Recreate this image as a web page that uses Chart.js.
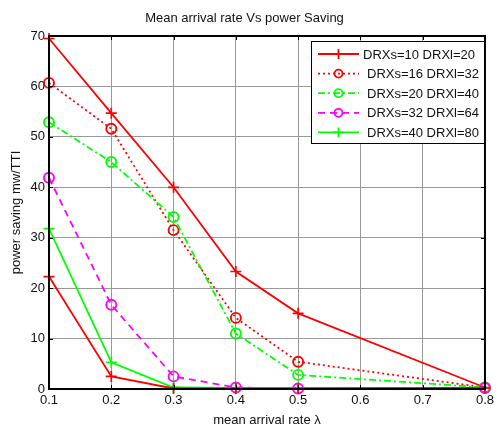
<!DOCTYPE html>
<html>
<head>
<meta charset="utf-8">
<script src="https://cdn.jsdelivr.net/npm/chart.js@4.4.0/dist/chart.umd.min.js"></script>
<style>
    html, body { margin: 0; padding: 0; background: #ffffff; }
    #wrap { width: 498px; height: 426px; }
</style>
</head>
<body>
<div id="wrap"><canvas id="savingChart" width="498" height="426"></canvas></div>
<script>
const arrivalRates = [0.1, 0.2, 0.3, 0.4, 0.5, 0.8];
const xTicks = [0.1, 0.2, 0.3, 0.4, 0.5, 0.6, 0.7, 0.8];
const yTicks = [0, 10, 20, 30, 40, 50, 60, 70];

const seriesNames = [
    "DRXs=10 DRXl=20",
    "DRXs=16 DRXl=32",
    "DRXs=20 DRXl=40",
    "DRXs=32 DRXl=64",
    "DRXs=40 DRXl=80",
    ""
];

const drx10 = [69.5, 54.7, 40.0, 23.3, 15.0, 0.3];
const drx16 = [60.7, 51.6, 31.5, 14.1, 5.4, 0.3];
const drx20 = [52.9, 45.0, 34.1, 11.0, 2.8, 0.3];
const drx32 = [41.9, 16.7, 2.5, 0.3, 0.1, 0.2];
const drx40 = [31.8, 5.3, 0.3, 0.2, 0.2, 0.2];
const drxExtra = [22.3, 2.5, 0.1, 0.1, 0.1, 0.2];

const RED = "#ff0000";
const GREEN = "#00ff00";
const MAGENTA = "#ff00ff";
const FONT = "'Liberation Sans', Arial, sans-serif";

function toPoints(values) {
    return values.map((v, i) => ({ x: arrivalRates[i], y: v }));
}

function makeSeries(name, values, color, marker, dash, order) {
    return {
        label: name,
        data: toPoints(values),
        borderColor: color,
        backgroundColor: "rgba(0,0,0,0)",
        borderWidth: 1.8,
        borderDash: dash,
        pointStyle: marker,
        pointRadius: marker === "cross" ? 5.5 : 5,
        pointBorderWidth: marker === "cross" ? 1.7 : 1.9,
        pointBorderColor: color,
        pointBackgroundColor: "rgba(0,0,0,0)",
        tension: 0,
        clip: false,
        order: order
    };
}

const datasets = [
    makeSeries(seriesNames[0], drx10, RED, "cross", [], 6),
    makeSeries(seriesNames[1], drx16, RED, "circle", [2, 3], 5),
    makeSeries(seriesNames[2], drx20, GREEN, "circle", [7, 3, 2, 3], 4),
    makeSeries(seriesNames[3], drx32, MAGENTA, "circle", [7, 5], 3),
    makeSeries(seriesNames[4], drx40, GREEN, "cross", [], 2),
    makeSeries(seriesNames[5], drxExtra, RED, "cross", [], 1)
];

// matlab style box, inward ticks and the legend inside the axes
const matlabFrame = {
    id: "matlabFrame",
    afterDatasetsDraw(chart) {
        const ctx = chart.ctx;
        const a = chart.chartArea;
        const xs = chart.scales.x;
        const ys = chart.scales.y;
        ctx.save();
        ctx.strokeStyle = "#000000";
        ctx.lineWidth = 1;
        ctx.beginPath();
        for (const t of xTicks) {
            const px = Math.round(xs.getPixelForValue(t)) + 0.5;
            ctx.moveTo(px, a.bottom); ctx.lineTo(px, a.bottom - 4);
            ctx.moveTo(px, a.top); ctx.lineTo(px, a.top + 4);
        }
        for (const t of yTicks) {
            const py = Math.round(ys.getPixelForValue(t)) + 0.5;
            ctx.moveTo(a.left, py); ctx.lineTo(a.left + 4, py);
            ctx.moveTo(a.right, py); ctx.lineTo(a.right - 4, py);
        }
        ctx.stroke();
        ctx.lineWidth = 2;
        ctx.strokeRect(a.left, a.top, a.right - a.left, a.bottom - a.top);

        // legend
        const boxX = 311, boxY = 41, boxW = 173, boxH = 102;
        ctx.fillStyle = "#ffffff";
        ctx.fillRect(boxX, boxY, boxW, boxH);
        ctx.lineWidth = 1;
        ctx.strokeRect(boxX + 0.5, boxY + 0.5, boxW, boxH);
        ctx.font = "13px " + FONT;
        ctx.textBaseline = "middle";
        ctx.textAlign = "left";
        let row = 0;
        chart.data.datasets.forEach((ds) => {
            if (!ds.label) return;
            const y = boxY + 13 + row * 19.6;
            ctx.strokeStyle = ds.borderColor;
            ctx.lineWidth = ds.borderWidth;
            ctx.setLineDash(ds.borderDash);
            ctx.beginPath();
            ctx.moveTo(318, y);
            ctx.lineTo(359, y);
            ctx.stroke();
            ctx.setLineDash([]);
            ctx.fillStyle = "rgba(0,0,0,0)";
            Chart.helpers.drawPoint(ctx, {
                pointStyle: ds.pointStyle,
                radius: ds.pointStyle === "cross" ? 5 : 4,
                borderWidth: ds.pointBorderWidth,
                rotation: 0
            }, 338.5, y);
            ctx.fillStyle = "#111111";
            ctx.fillText(ds.label, row === 0 ? 363 : 367, y + 1);
            row++;
        });
        ctx.restore();
    }
};

new Chart(document.getElementById("savingChart").getContext("2d"), {
    type: "line",
    data: { datasets: datasets },
    plugins: [matlabFrame],
    options: {
        responsive: false,
        animation: false,
        layout: { padding: { left: 0, right: 9, top: 0, bottom: 0 } },
        plugins: {
            legend: { display: false },
            tooltip: { enabled: false },
            title: {
                display: true,
                text: "Mean arrival rate Vs power Saving",
                color: "#111111",
                font: { family: FONT, size: 13, weight: "normal" },
                padding: { top: 11, bottom: 9.4 }
            }
        },
        scales: {
            x: {
                type: "linear",
                min: 0.1,
                max: 0.8,
                afterFit: (s) => { s.height = 37; },
                afterBuildTicks: (s) => { s.ticks = xTicks.map(v => ({ value: v })); },
                ticks: {
                    color: "#111111",
                    padding: 4,
                    font: { family: FONT, size: 13 },
                    callback: (v) => v.toFixed(1)
                },
                grid: { color: "#999999", lineWidth: 1, drawTicks: false },
                border: { display: false },
                title: {
                    display: true,
                    text: "mean arrival rate λ",
                    color: "#111111",
                    font: { family: FONT, size: 13 },
                    padding: { top: 0, bottom: -2 }
                }
            },
            y: {
                type: "linear",
                min: 0,
                max: 70,
                afterFit: (s) => { s.width = 49; },
                afterBuildTicks: (s) => { s.ticks = yTicks.map(v => ({ value: v })); },
                ticks: {
                    color: "#111111",
                    padding: 4,
                    font: { family: FONT, size: 13 }
                },
                grid: { color: "#999999", lineWidth: 1, drawTicks: false },
                border: { display: false },
                title: {
                    display: true,
                    text: "power saving mw/TTI",
                    color: "#111111",
                    font: { family: FONT, size: 13 },
                    padding: { top: 9, bottom: 0 }
                }
            }
        }
    }
});
</script>
</body>
</html>
